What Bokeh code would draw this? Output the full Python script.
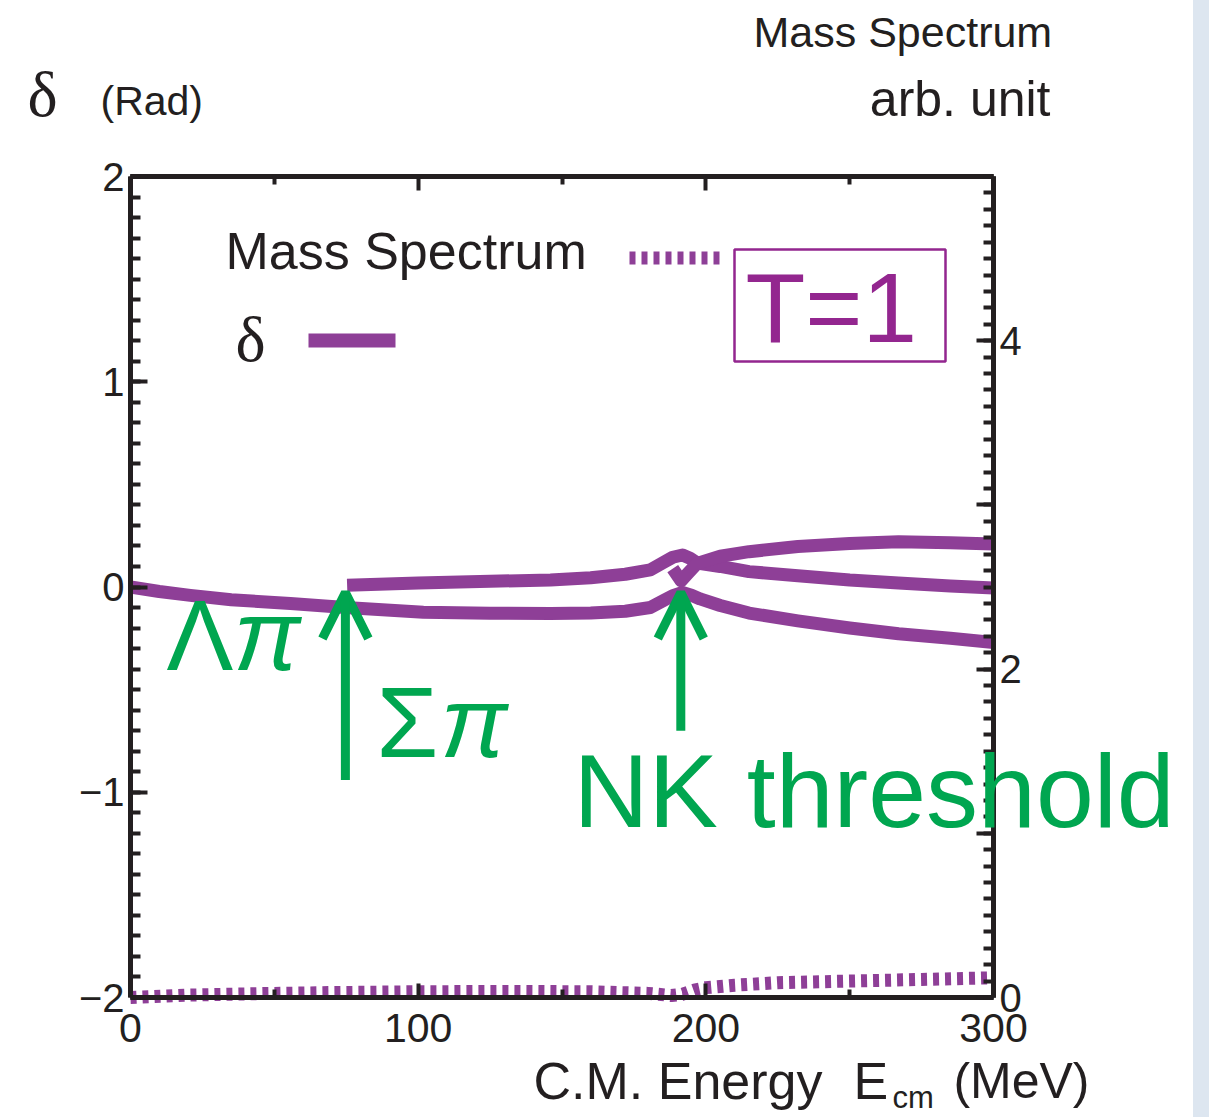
from bokeh.plotting import figure
from bokeh.models import (Range1d, LinearAxis, FixedTicker, Label, Arrow, OpenHead,
                          BoxAnnotation, Spacer)
from bokeh.layouts import row
from bokeh.embed import file_html
from bokeh.resources import INLINE

# ---------------- data ----------------
# delta (rad), Lambda-pi channel, starts at E=0
lampi_x = [0, 10, 20.8, 35, 55.6, 74.7, 101.8, 125, 146, 160, 172, 180.7, 185.3, 188.5,
           191.9, 195, 198, 205, 215, 232, 250, 267, 285, 300]
lampi_y = [0.0, -0.022, -0.041, -0.062, -0.08, -0.1, -0.123, -0.128, -0.129, -0.127,
           -0.118, -0.1, -0.066, -0.042, -0.027, -0.04, -0.058, -0.09, -0.127, -0.165,
           -0.2, -0.228, -0.25, -0.27]
# delta, Sigma-pi channel, starts at the Sigma-pi threshold
sigpi_x = [75.3, 100, 125, 146, 160, 172, 180.7, 185.3, 188.5, 191.9, 194.5, 197, 205,
           215, 232, 250, 267, 285, 300]
sigpi_y = [0.008, 0.02, 0.028, 0.034, 0.045, 0.062, 0.083, 0.12, 0.145, 0.156, 0.14,
           0.117, 0.1, 0.075, 0.055, 0.034, 0.02, 0.005, -0.005]
# delta, NK channel, opens at the NK threshold
nk_x = [188.5, 191.4, 194, 197, 205, 215, 232, 250, 267, 285, 300]
nk_y = [0.09, 0.03, 0.07, 0.115, 0.15, 0.172, 0.197, 0.212, 0.22, 0.215, 0.21]
# mass spectrum (arb. unit, right axis)
mass_x = [0, 20, 50, 70, 100, 130, 160, 180, 188, 192, 196, 200, 210, 225, 250, 275, 300]
mass_y = [0.0, 0.015, 0.025, 0.03, 0.035, 0.037, 0.035, 0.025, 0.012, 0.02, 0.045, 0.06,
          0.075, 0.09, 0.1, 0.11, 0.12]
# thresholds marked by arrows (MeV)
threshold_x = [74.7, 191.3]
arrow_bottom = [-0.94, -0.70]
arrow_tip = [-0.027, -0.027]

x_ticks = [0, 100, 200, 300]
x_minor = [50, 150, 250]
left_ticks = [-2, -1, 0, 1, 2]
right_labeled = [0, 2, 4]
right_unlabeled = [1, 3]
X0, X1 = 0, 300      # energy axis span
Y0, Y1 = -2, 2       # phase-shift axis span
M0, M1 = 0, 5        # mass-spectrum axis span

PURPLE = "#8e3f97"
PURPLE2 = "#93268f"
GREEN = "#00a650"
INK = "#231f20"
SANS = "Liberation Sans"
SERIF = "Liberation Serif"

W, H = 1193, 1117
L, R, T, B = 130, 993, 176, 997


def px2x(px):
    return X0 + (px - L) / (R - L) * (X1 - X0)


def py2y(py):
    return Y1 - (py - T) / (B - T) * (Y1 - Y0)


def y2m(y):
    return M0 + (y - Y0) / (Y1 - Y0) * (M1 - M0)


p = figure(width=W, height=H,
           x_range=Range1d(px2x(0), px2x(W)), y_range=Range1d(py2y(H), py2y(0)),
           x_axis_type=None, y_axis_type=None,
           output_backend="svg", toolbar_location=None, title=None,
           min_border=0)
p.extra_y_ranges = {"mass": Range1d(y2m(py2y(H)), y2m(py2y(0)))}
p.outline_line_color = None
p.background_fill_color = "white"
p.border_fill_color = "white"


def style_axis(ax, fs="40px", standoff=8):
    ax.axis_line_width = 5
    ax.axis_line_color = INK
    ax.major_tick_line_width = 4
    ax.minor_tick_line_width = 4
    ax.major_tick_line_color = INK
    ax.minor_tick_line_color = INK
    ax.major_tick_in = 17
    ax.major_tick_out = 0
    ax.minor_tick_in = 10
    ax.minor_tick_out = 0
    ax.major_label_text_font = SANS
    ax.major_label_text_font_size = fs
    ax.major_label_text_color = INK
    ax.major_label_standoff = standoff


# bottom
xb = LinearAxis(fixed_location=Y0, bounds=(X0, X1),
                ticker=FixedTicker(ticks=x_ticks, minor_ticks=x_minor))
style_axis(xb, fs="41px", standoff=16)
xb.major_tick_in = 14
xb.minor_tick_in = 8
p.add_layout(xb, "below")
# top (ticks only, no labels): long ticks at 100s, short at 50s
for tks, tlen in [(x_ticks, 14), (x_minor, 8)]:
    xt = LinearAxis(fixed_location=Y1, bounds=(X0, X1),
                    ticker=FixedTicker(ticks=[], minor_ticks=tks))
    style_axis(xt)
    xt.minor_tick_in = tlen
    p.add_layout(xt, "above")
# left
yl = LinearAxis(fixed_location=X0, bounds=(Y0, Y1),
                ticker=FixedTicker(ticks=left_ticks,
                                   minor_ticks=[round(Y0 + 0.1 * i, 2) for i in range(41)]))
style_axis(yl, standoff=6)
yl.major_label_overrides = {-1: "\u22121", -2: "\u22122"}
p.add_layout(yl, "left")
# right (mass spectrum scale)
yr = LinearAxis(y_range_name="mass", fixed_location=X1, bounds=(M0, M1),
                ticker=FixedTicker(ticks=right_labeled,
                                   minor_ticks=[round(0.1 * i, 2) for i in range(51)]))
style_axis(yr, standoff=6)
p.add_layout(yr, "right")
yr2 = LinearAxis(y_range_name="mass", fixed_location=X1, bounds=(M0, M1),
                 ticker=FixedTicker(ticks=[], minor_ticks=right_unlabeled))
style_axis(yr2)
yr2.minor_tick_in = 17
p.add_layout(yr2, "right")

# curves
for xs, ys in [(lampi_x, lampi_y), (sigpi_x, sigpi_y), (nk_x, nk_y)]:
    p.line(xs, ys, line_color=PURPLE, line_width=13, line_join="round")
p.line(mass_x, mass_y, y_range_name="mass", line_color=PURPLE, line_width=13,
       line_dash="6 6")

# arrows
for xa, yb, yt in zip(threshold_x, arrow_bottom, arrow_tip):
    p.add_layout(Arrow(end=OpenHead(size=46, line_color=GREEN, line_width=9),
                       x_start=xa, y_start=yb, x_end=xa, y_end=yt,
                       line_color=GREEN, line_width=9))

# legend (manual)
p.line([px2x(308), px2x(395)], [py2y(340), py2y(340)], line_color=PURPLE, line_width=14)
p.line([px2x(629), px2x(723)], [py2y(257.5), py2y(257.5)], line_color=PURPLE,
       line_width=13, line_dash="6 6")
p.add_layout(BoxAnnotation(left=px2x(734), right=px2x(945), top=py2y(249),
                           bottom=py2y(361), fill_color=None, fill_alpha=0,
                           line_color=PURPLE2, line_alpha=1.0, line_width=2.5))


def lab(text, px, py, size, font=SANS, color=INK, align="left", style="normal"):
    # py is the intended baseline; compensate for the renderer's baseline offset
    p.add_layout(Label(x=px2x(px), y=py2y(py - 0.365 * size), text=text, text_font=font,
                       text_font_size=f"{size}px", text_color=color,
                       text_align=align, text_baseline="alphabetic",
                       text_font_style=style))


lab("\u03b4", 27, 117, 64, font=SERIF)
lab("(Rad)", 100, 115, 41)
lab("Mass Spectrum", 753, 47, 43)
lab("arb. unit", 1050, 117, 50, align="right")
lab("Mass Spectrum", 225, 269, 52)
lab("\u03b4", 235, 362, 64, font=SERIF)
lab("T=1", 745, 343, 98, color=PURPLE2)
lab("\u039b", 166, 671, 100, color=GREEN)
lab("\u03c0", 233, 671, 100, color=GREEN, style="italic")
lab("\u03a3", 376, 758, 100, color=GREEN)
lab("\u03c0", 440, 758, 100, color=GREEN, style="italic")
lab("NK threshold", 573, 828, 104, color=GREEN)
lab("C.M. Energy", 533, 1099, 52)
lab("E", 853, 1099, 52)
lab("cm", 892, 1108, 31)
lab("(MeV)", 1089, 1099, 50, align="right")

strip = Spacer(width=1209 - W, height=H, styles={"background-color": "#dde6f0"})
layout = row(p, strip)

open("out.html", "w").write(file_html(layout, INLINE))
